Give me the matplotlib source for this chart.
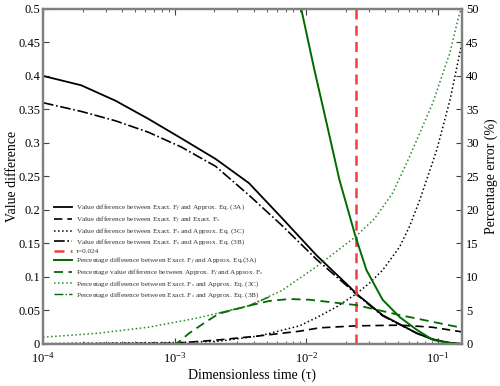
import numpy as np
import matplotlib
matplotlib.use("Agg")
import matplotlib.pyplot as plt
from matplotlib.ticker import FormatStrFormatter, MultipleLocator, LogLocator

plt.rcParams['font.family'] = ['Liberation Serif', 'DejaVu Serif']
plt.rcParams['mathtext.fontset'] = 'stix'

# Datos ----------------------------------------------------
# diferencia de valor (eje izquierdo)
t_3a = [1e-4, 1.95e-4, 3.55e-4, 6.3e-4, 1.12e-3, 2.05e-3, 3.67e-3, 6.6e-3, 0.012, 0.0214, 0.024, 0.038, 0.069, 0.091, 0.12, 0.1525]
v_3a = [0.400, 0.386, 0.363, 0.336, 0.307, 0.276, 0.240, 0.187, 0.132, 0.085, 0.075, 0.043, 0.016, 0.007, 0.002, 0.0]

t_3b = [1e-4, 1.95e-4, 3.55e-4, 6.3e-4, 1.12e-3, 2.05e-3, 3.67e-3, 6.6e-3, 0.012, 0.0214, 0.024, 0.038, 0.069, 0.091, 0.12, 0.1525]
v_3b = [0.360, 0.347, 0.333, 0.316, 0.294, 0.265, 0.222, 0.176, 0.126, 0.083, 0.074, 0.042, 0.016, 0.007, 0.002, 0.0]

t_3c = [1e-4, 1.03e-3, 2.16e-3, 4.4e-3, 8.9e-3, 0.0119, 0.0169, 0.0241, 0.0303, 0.038, 0.0513, 0.0611, 0.0729, 0.0982, 0.1236, 0.1525]
v_3c = [0.0005, 0.002, 0.004, 0.012, 0.027, 0.039, 0.055, 0.075, 0.091, 0.110, 0.145, 0.176, 0.215, 0.29, 0.364, 0.45]

t_fs = [1e-4, 1e-3, 2.16e-3, 4.4e-3, 8.9e-3, 0.0126, 0.024, 0.0515, 0.09, 0.1525]
v_fs = [0.0, 0.001, 0.006, 0.012, 0.019, 0.024, 0.027, 0.028, 0.025, 0.018]

# porcentaje (eje derecho)
tp_3a = [9.16e-3, 0.0115, 0.01445, 0.01786, 0.0237, 0.0287, 0.038, 0.0513, 0.0692, 0.0916, 0.1236, 0.1525]
p_3a = [50, 41, 32.5, 24.5, 16, 11, 6.6, 4.0, 2.1, 0.6, 0.1, 0.0]

tp_fs = [1e-4, 1.03e-3, 1.29e-3, 1.73e-3, 2.16e-3, 3.67e-3, 5.2e-3, 7.4e-3, 0.0105, 0.024, 0.0515, 0.1525]
p_fs = [0, 0, 1.6, 3.3, 4.5, 5.7, 6.4, 6.7, 6.6, 5.8, 4.3, 2.4]

tp_3c = [1e-4, 2.63e-4, 6.34e-4, 1.52e-3, 3.67e-3, 6.56e-3, 0.0119, 0.0237, 0.033, 0.0453, 0.0611, 0.0916, 0.1236, 0.1423, 0.1525]
p_3c = [1.0, 1.6, 2.5, 3.9, 5.7, 8.0, 11.5, 16, 18.7, 22.5, 28, 36, 43.5, 48.5, 50.5]

tp_3b = [2.16e-3, 3.67e-3, 5.2e-3]
p_3b = [4.6, 5.7, 7.0]

tau_mark = 0.024

verde = '#006a00'
gris = '#808080'

fig = plt.figure(figsize=(5, 3.86), dpi=100)
ax = fig.add_axes([0.086, 0.109, 0.838, 0.868])
ax2 = ax.twinx()

l1, = ax.plot(t_3a, v_3a, '-', color='k', lw=1.3, label='Value difference between Exact. F$_f$ and Approx. Eq. (3A)')
l2, = ax.plot(t_fs, v_fs, '--', color='k', lw=1.2, dashes=(5, 3), label='Value difference between Exact. F$_f$ and Exact. F$_s$')
l3, = ax.plot(t_3c, v_3c, ':', color='k', lw=1.1, label='Value difference between Exact. F$_s$ and Approx. Eq. (3C)')
l4, = ax.plot(t_3b, v_3b, '-.', color='k', lw=1.2, label='Value difference between Exact. F$_s$ and Approx. Eq. (3B)')
l5 = ax.axvline(tau_mark, color='#f04040', ls='--', lw=1.8, dashes=(4, 2.5), label='τ=0.024')

l9, = ax2.plot(tp_3b, p_3b, '-.', color=verde, lw=1.0, label='Percentage difference between Exact. F$_s$ and Approx. Eq. (3B)')
l6, = ax2.plot(tp_3a, p_3a, '-', color=verde, lw=1.4, label='Percentage difference between Exact. F$_f$ and Approx. Eq.(3A)')
l7, = ax2.plot(tp_fs, p_fs, '--', color=verde, lw=1.3, dashes=(5, 3), label='Percentage value difference between Approx. F$_f$ and Approx. F$_s$')
l8, = ax2.plot(tp_3c, p_3c, ':', color='#2a8a2a', lw=1.1, label='Percentage difference between Exact. F$_s$ and Approx. Eq. (3C)')

ax.set_xscale('log')
ax.set_xlim(1e-4, 0.1525)
ax.set_ylim(0, 0.5)
ax2.set_ylim(0, 50)

ax.yaxis.set_major_locator(MultipleLocator(0.05))
ax.yaxis.set_major_formatter(FormatStrFormatter('%g'))
ax2.yaxis.set_major_locator(MultipleLocator(5))
ax2.yaxis.set_major_formatter(FormatStrFormatter('%g'))
ax.xaxis.set_minor_locator(LogLocator(base=10, subs=np.arange(2, 10)))

ax.tick_params(axis='x', which='both', direction='in', top=True, labelsize=9, color='#404040')
ax.tick_params(axis='x', which='major', length=4, pad=5)
ax.tick_params(axis='x', which='minor', length=2.5)
ax.tick_params(axis='y', direction='in', length=4, labelsize=9, color='#404040', pad=2)
ax2.tick_params(axis='y', direction='in', length=4, labelsize=9, color='#404040', pad=3)

for a in [ax, ax2]:
    for s in a.spines.values():
        s.set_color(gris)
        s.set_linewidth(1.6)

ax.set_xlabel('Dimensionless time (τ)', fontsize=10, labelpad=2)
ax.set_ylabel('Value difference', fontsize=10)
ax.yaxis.set_label_coords(-0.057, 0.5)
ax2.set_ylabel('Percentage error (%)', fontsize=10, labelpad=4)

handles = [l1, l2, l3, l4, l5, l6, l7, l8, l9]
leg = ax2.legend(handles=handles, loc='upper left', bbox_to_anchor=(0.026, 0.422),
                 frameon=False, fontsize=5.2, handlelength=2.5, handletextpad=0.6,
                 labelspacing=0.15, borderpad=0, borderaxespad=0)
for txt in leg.get_texts():
    txt.set_color('#333333')

plt.savefig('out.png', dpi=100)
plt.close()
